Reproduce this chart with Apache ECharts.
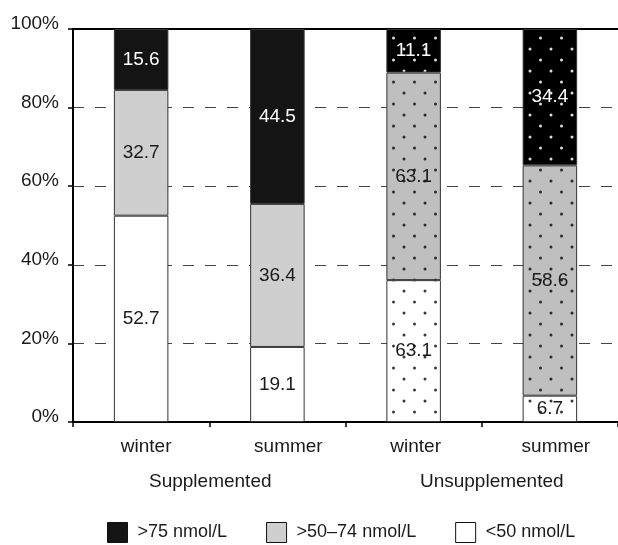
<!DOCTYPE html>
<html>
<head>
<meta charset="utf-8">
<script src="https://cdn.jsdelivr.net/npm/echarts@6/dist/echarts.min.js"></script>
<style>
html,body{margin:0;padding:0;background:#fff;}
#chart{width:618px;height:545px;}
</style>
</head>
<body>
<div id="chart"></div>
<script>
// ---- data ----
const categories = ['winter', 'summer', 'winter', 'summer'];
const groups = ['Supplemented', 'Unsupplemented'];
const seriesNames = ['<50 nmol/L', '>50–74 nmol/L', '>75 nmol/L'];
const legendOrder = ['>75 nmol/L', '>50–74 nmol/L', '<50 nmol/L'];
// segment heights (percent) as drawn
const lowValues = [52.5, 19.1, 36.1, 6.7];
const midValues = [32.0, 36.4, 52.8, 58.6];
const highValues = [15.5, 44.5, 11.1, 34.7];
// printed labels
const lowLabels = ['52.7', '19.1', '63.1', '6.7'];
const midLabels = ['32.7', '36.4', '63.1', '58.6'];
const highLabels = ['15.6', '44.5', '11.1', '34.4'];
const patterned = [false, false, true, true];
const yTicks = [0, 20, 40, 60, 80, 100];

// ---- styling ----
const FONT = "'Liberation Sans', Arial, sans-serif";
const TXT = '#1a1a1a';

function makePattern(bg, dot) {
  const c = document.createElement('canvas');
  c.width = 21; c.height = 22;
  const g = c.getContext('2d');
  g.fillStyle = bg; g.fillRect(0, 0, 21, 22);
  g.fillStyle = dot;
  [[5, 5], [15.5, 16]].forEach(function (p) {
    g.beginPath(); g.arc(p[0], p[1], 1.5, 0, Math.PI * 2); g.fill();
  });
  return { image: c, repeat: 'repeat' };
}

const solid = ['#ffffff', '#cfcfcf', '#141414'];
const patternBg = ['#ffffff', '#bfbfbf', '#000000'];
const patternDot = ['#3a3a3a', '#2a2a2a', '#dddddd'];
const labelColors = [TXT, TXT, '#ffffff'];
const valueSets = [lowValues, midValues, highValues];
const labelSets = [lowLabels, midLabels, highLabels];
const catShift = [10, 22, 4, 12];

const series = seriesNames.map(function (name, si) {
  const pat = makePattern(patternBg[si], patternDot[si]);
  return {
    name: name,
    type: 'bar',
    stack: 'total',
    xAxisIndex: 0,
    barWidth: '40%',
    itemStyle: { color: solid[si], borderColor: '#333', borderWidth: 1 },
    label: {
      show: true,
      position: 'inside',
      color: labelColors[si],
      fontSize: 19,
      fontFamily: FONT,
      formatter: function (p) { return labelSets[si][p.dataIndex]; }
    },
    emphasis: { disabled: true },
    data: valueSets[si].map(function (v, i) {
      return patterned[i] ? { value: v, itemStyle: { color: pat } } : v;
    })
  };
});

const chart = echarts.init(document.getElementById('chart'), null, { renderer: 'canvas' });
chart.setOption({
  animation: false,
  backgroundColor: '#fff',
  grid: { left: 73, right: -3, top: 29, bottom: 123 },
  legend: {
    data: legendOrder,
    left: 107,
    top: 522,
    padding: 0,
    itemWidth: 20,
    itemHeight: 20,
    itemGap: 39,
    icon: 'rect',
    itemStyle: { borderColor: '#111', borderWidth: 1 },
    textStyle: { fontSize: 18, color: TXT, fontFamily: FONT, padding: [0, 0, 0, 5] },
    selectedMode: false
  },
  xAxis: [
    {
      type: 'category',
      data: categories.map(function (c, i) {
        return { value: c, textStyle: { padding: [0, 0, 0, catShift[i]] } };
      }),
      position: 'bottom',
      axisLine: { show: true, lineStyle: { color: '#000', width: 2 } },
      axisTick: { show: true, length: 5, lineStyle: { color: '#000', width: 1.5 } },
      axisLabel: { fontSize: 19, color: TXT, fontFamily: FONT, margin: 15 }
    },
    {
      type: 'category',
      data: categories,
      position: 'top',
      axisLine: { show: true, lineStyle: { color: '#000', width: 2 } },
      axisTick: { show: false },
      axisLabel: { show: false }
    },
    {
      type: 'category',
      data: groups.map(function (g, i) {
        return { value: g, textStyle: { padding: [0, 0, 0, i === 1 ? 20 : 2] } };
      }),
      position: 'bottom',
      axisLine: { show: false },
      axisTick: { show: false },
      axisLabel: { fontSize: 19, color: TXT, fontFamily: FONT, margin: 50 }
    }
  ],
  yAxis: {
    type: 'value',
    min: yTicks[0],
    max: yTicks[yTicks.length - 1],
    interval: yTicks[1] - yTicks[0],
    axisLine: { show: true, lineStyle: { color: '#000', width: 2 } },
    axisTick: { show: true, length: 5, lineStyle: { color: '#000', width: 1.5 } },
    axisLabel: { formatter: '{value}%', fontSize: 19, color: TXT, fontFamily: FONT, margin: 14, verticalAlign: 'bottom', lineHeight: 10 },
    splitLine: {
      show: true,
      showMinLine: false,
      showMaxLine: false,
      lineStyle: { color: '#444', width: 1, type: [11, 11] }
    }
  },
  series: series
});
</script>
</body>
</html>
